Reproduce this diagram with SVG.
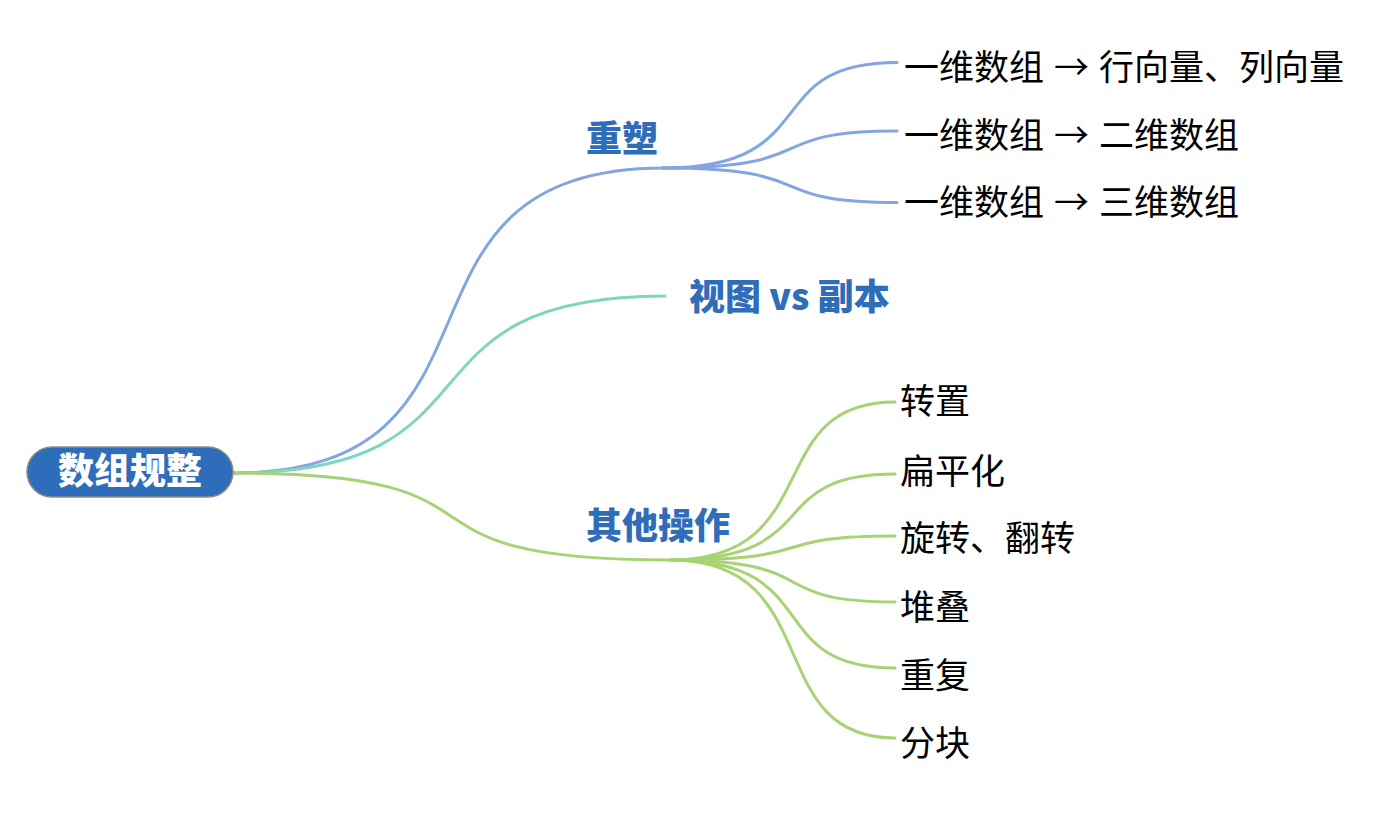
<svg xmlns="http://www.w3.org/2000/svg" width="1380" height="826" viewBox="0 0 1380 826">
<style>
.bl{fill:none;stroke:#84A5E0;stroke-width:3;stroke-linecap:round}
.tl{fill:none;stroke:#7FD5C1;stroke-width:3;stroke-linecap:round}
.gl{fill:none;stroke:#A7D373;stroke-width:3;stroke-linecap:round}
.lab{font-family:"Noto Sans CJK SC","Noto Sans",sans-serif;font-size:36px;font-weight:900;fill:#2F6DB9}
.leaf{font-family:"Noto Sans CJK SC","Noto Sans",sans-serif;font-size:35px;font-weight:400;fill:#000}
.root{font-family:"Noto Sans CJK SC","Noto Sans",sans-serif;font-size:36px;font-weight:900;fill:#fff}
</style>
<rect width="1380" height="826" fill="#fff"/>
<g id="connectors">
<path class="bl" d="M233,473 C535,473 363,168 665,168"/>
<path class="tl" d="M233,473 C514,473 384,296 665,296"/>
<path class="gl" d="M233,473 C539,473 364,560 670,560"/>
<path class="bl" d="M663,168 C827,168 757,62.5 897,62.5"/>
<path class="bl" d="M663,168 C827,168 757,131 897,131"/>
<path class="bl" d="M663,168 C827,168 757,202.5 897,202.5"/>
<path class="gl" d="M670,560 C828,560 760,402 895,402"/>
<path class="gl" d="M670,560 C828,560 760,474 895,474"/>
<path class="gl" d="M670,560 C828,560 760,536 895,536"/>
<path class="gl" d="M670,560 C828,560 760,602 895,602"/>
<path class="gl" d="M670,560 C828,560 760,668 895,668"/>
<path class="gl" d="M670,560 C828,560 760,738 895,738"/>
</g>
<g id="root">
<rect x="27" y="447" width="206" height="50" rx="25" ry="25" fill="#2E6DB9" stroke="#8C8C8C" stroke-width="1.5"/>
<text class="root" x="130" y="484" text-anchor="middle">数组规整</text>
</g>
<g id="reshape"><text class="lab" x="586" y="152">重塑</text></g>
<g id="view"><text class="lab" x="689" y="310">视图 vs 副本</text></g>
<g id="other"><text class="lab" x="586" y="539">其他操作</text></g>
<g id="r1"><text class="leaf" y="79.5"><tspan x="904">一维数组</tspan><tspan x="1054">→</tspan><tspan x="1099">行向量、列向量</tspan></text></g>
<g id="r2"><text class="leaf" y="147.5"><tspan x="904">一维数组</tspan><tspan x="1054">→</tspan><tspan x="1099">二维数组</tspan></text></g>
<g id="r3"><text class="leaf" y="214.5"><tspan x="904">一维数组</tspan><tspan x="1054">→</tspan><tspan x="1099">三维数组</tspan></text></g>
<g id="o1"><text class="leaf" x="900" y="413.5">转置</text></g>
<g id="o2"><text class="leaf" x="900" y="483.5">扁平化</text></g>
<g id="o3"><text class="leaf" x="900" y="550.5">旋转、翻转</text></g>
<g id="o4"><text class="leaf" x="900" y="619.5">堆叠</text></g>
<g id="o5"><text class="leaf" x="900" y="687.5">重复</text></g>
<g id="o6"><text class="leaf" x="900" y="755.5">分块</text></g>
</svg>
